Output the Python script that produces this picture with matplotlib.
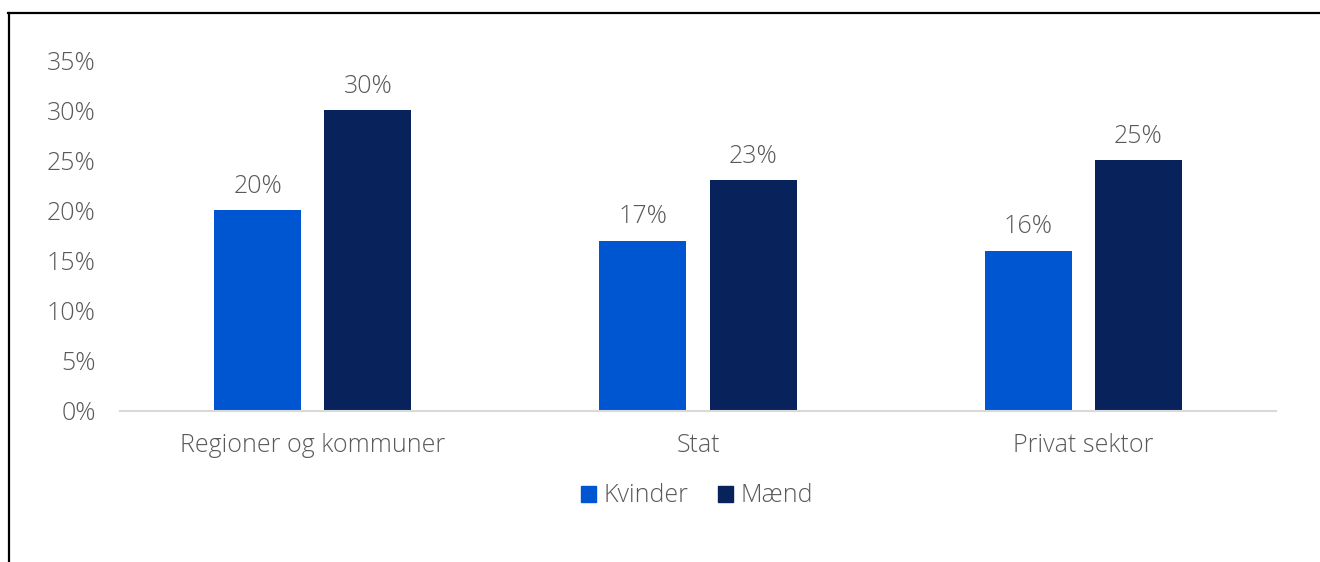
import matplotlib

matplotlib.use("Agg")
import matplotlib.pyplot as plt
import numpy as np
from matplotlib.lines import Line2D
from matplotlib.patches import Patch

categories = ["Regioner og kommuner", "Stat", "Privat sektor"]
kvinder = [20, 17, 16]
maend = [30, 23, 25]
series_names = ["Kvinder", "Mænd"]
yticks = [0, 5, 10, 15, 20, 25, 30, 35]

C_KV = "#0055d0"
C_MA = "#08225c"
GREY = "#595959"
FS = 18

plt.rcParams["font.family"] = ["Open Sans", "DejaVu Sans"]

W, H = 1320, 562
fig = plt.figure(figsize=(W / 100, H / 100), dpi=100)
ax = fig.add_axes([120 / W, 1 - 411 / H, (1276 - 120) / W, (411 - 60) / H])

x = np.arange(len(categories))
bw = 0.226
off = 0.143
b1 = ax.bar(x - off, kvinder, bw, color=C_KV, label=series_names[0])
b2 = ax.bar(x + off, maend, bw, color=C_MA, label=series_names[1])

for bars in (b1, b2):
    for r in bars:
        ax.annotate(f"{r.get_height():.0f}%", (r.get_x() + r.get_width() / 2, r.get_height()),
                    xytext=(0, 8), textcoords="offset points", ha="center", va="bottom",
                    fontsize=FS, color=GREY, fontweight="light")

ax.set_xlim(-0.5, 2.5)
ax.set_ylim(0, 35)
ax.set_yticks(yticks)
ax.set_yticklabels([f"{v}%" for v in yticks], fontweight="light")
ax.set_xticks(x)
ax.set_xticklabels(categories, fontweight="light")
ax.tick_params(axis="both", length=0, labelsize=FS, labelcolor=GREY)
ax.tick_params(axis="y", pad=17.5)
ax.tick_params(axis="x", pad=16)
for s in ("top", "right", "left"):
    ax.spines[s].set_visible(False)
ax.spines["bottom"].set_color("#d9d9d9")
ax.spines["bottom"].set_linewidth(1.5)

handles = [Patch(color=C_KV), Patch(color=C_MA)]
fig.legend(handles, series_names, loc="center", bbox_to_anchor=(697 / W, 1 - 496 / H),
           ncol=2, frameon=False, prop={"size": FS, "weight": "light"}, labelcolor=GREY,
           handlelength=0.6, handleheight=0.6, handletextpad=0.3, columnspacing=1.2)

# outer frame (top and left edges visible in the crop)
fig.add_artist(Line2D([8 / W, 1], [1 - 13 / H, 1 - 13 / H], color="black", lw=1.6))
fig.add_artist(Line2D([9 / W, 9 / W], [0, 1 - 13 / H], color="black", lw=1.6))

fig.savefig("out.png", dpi=100)
